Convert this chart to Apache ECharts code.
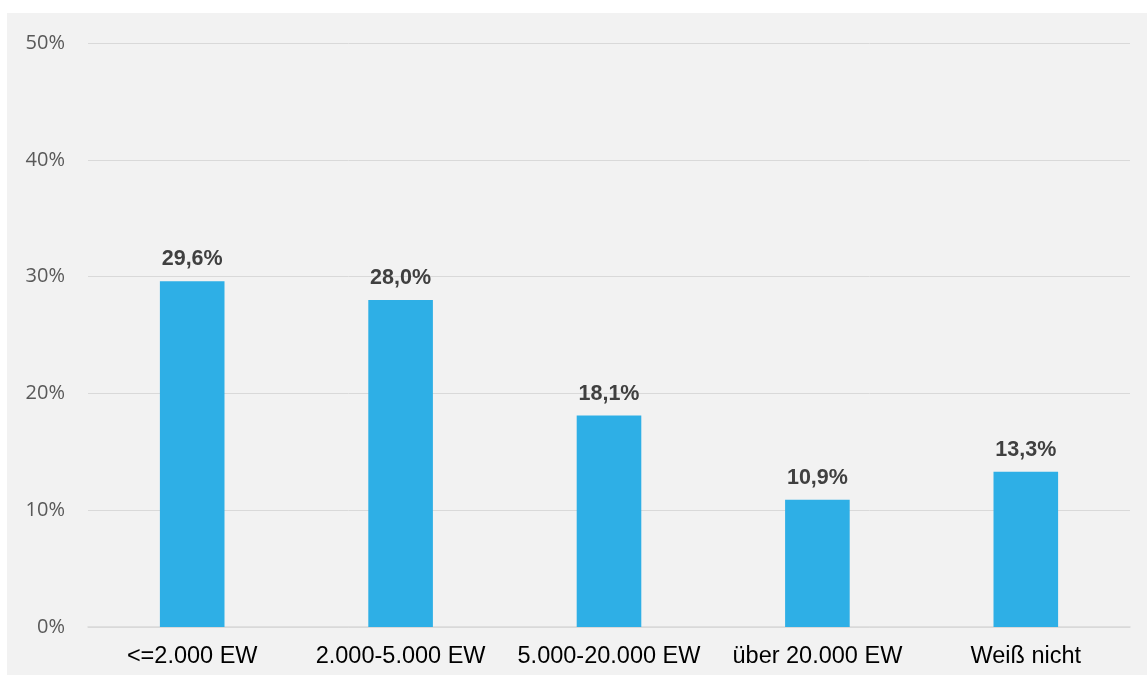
<!DOCTYPE html>
<html>
<head>
<meta charset="utf-8">
<script src="https://cdn.jsdelivr.net/npm/echarts@6/dist/echarts.min.js"></script>
<style>
  html, body { margin: 0; padding: 0; background: #ffffff; }
  #panel { position: absolute; left: 7px; top: 13px; width: 1140px; height: 662px; background: #f2f2f2; }
  #chart { width: 100%; height: 100%; }
</style>
</head>
<body>
<div id="panel"><div id="chart"></div></div>
<script>
// Größenklassen der Gemeinden (Einwohner) und Anteile in Prozent
const categories = ['<=2.000 EW', '2.000-5.000 EW', '5.000-20.000 EW', 'über 20.000 EW', 'Weiß nicht'];
const shares = [29.6, 28.0, 18.1, 10.9, 13.3];
const yTicks = [0, 10, 20, 30, 40, 50];

const chart = echarts.init(document.getElementById('chart'), null, { renderer: 'canvas' });
chart.setOption({
  backgroundColor: 'transparent',
  animation: false,
  grid: { left: 81, right: 17, top: 30, bottom: 48 },
  xAxis: {
    type: 'category',
    data: categories,
    axisLine: { show: true, lineStyle: { color: '#d9d9d9', width: 1.5 } },
    axisTick: { show: false },
    axisLabel: {
      interval: 0, hideOverlap: false,
      color: '#000000', fontSize: 23.5, fontFamily: 'Liberation Sans, Arial, sans-serif', margin: 18
    }
  },
  yAxis: {
    type: 'value',
    min: yTicks[0],
    max: yTicks[yTicks.length - 1],
    interval: 10,
    axisLine: { show: false },
    axisTick: { show: false },
    splitLine: { lineStyle: { color: '#d9d9d9', width: 1 } },
    axisLabel: {
      color: '#595959', fontSize: 20, fontFamily: 'Open Sans, Liberation Sans, sans-serif', margin: 23,
      formatter: v => v + '%'
    }
  },
  series: [{
    type: 'bar',
    data: shares,
    barWidth: '31%',
    itemStyle: { color: '#2eafe6' },
    label: {
      show: true,
      position: 'top',
      distance: 11,
      color: '#404040',
      fontSize: 21.5,
      fontWeight: 'bold',
      fontFamily: 'Liberation Sans, Arial, sans-serif',
      formatter: p => p.value.toFixed(1).replace('.', ',') + '%'
    }
  }]
});
</script>
</body>
</html>
